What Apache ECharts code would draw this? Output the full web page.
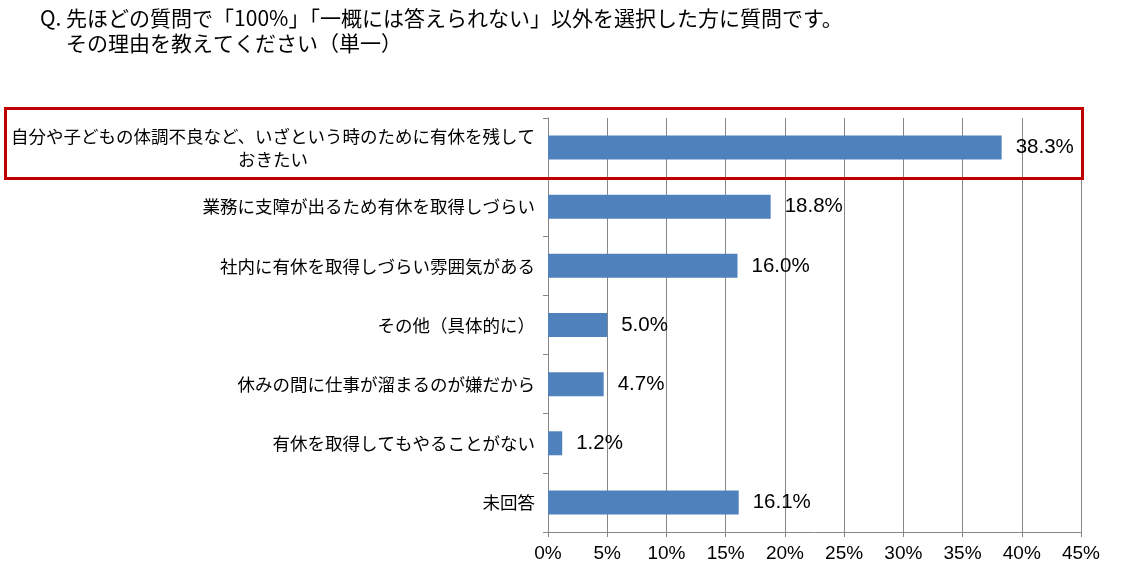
<!DOCTYPE html>
<html>
<head>
<meta charset="utf-8">
<script src="https://cdn.jsdelivr.net/npm/echarts@6/dist/echarts.min.js"></script>
<style>html,body{margin:0;padding:0;background:#fff;}#c{width:1125px;height:581px;}</style>
</head>
<body>
<div id="c"></div>
<script>
const titleLine1 = 'Q. 先ほどの質問で「100%」「一概には答えられない」以外を選択した方に質問です。';
const titleLine2 = 'その理由を教えてください（単一）';
const categories = [
  '自分や子どもの体調不良など、いざという時のために有休を残して\nおきたい',
  '業務に支障が出るため有休を取得しづらい',
  '社内に有休を取得しづらい雰囲気がある',
  'その他（具体的に）',
  '休みの間に仕事が溜まるのが嫌だから',
  '有休を取得してもやることがない',
  '未回答'
];
const values = [38.3, 18.8, 16.0, 5.0, 4.7, 1.2, 16.1];
const xTicks = [0, 5, 10, 15, 20, 25, 30, 35, 40, 45];

const jp = '"Noto Sans CJK JP", sans-serif';
const num = '"Liberation Sans", Arial, sans-serif';
const chart = echarts.init(document.getElementById('c'), null, {renderer: 'canvas'});
chart.setOption({
  backgroundColor: '#ffffff',
  animation: false,
  title: [
    {text: titleLine1, left: 35, top: 3, textStyle: {fontFamily: jp, fontSize: 21, fontWeight: 'normal', color: '#000'}},
    {text: titleLine2, left: 61, top: 28, textStyle: {fontFamily: jp, fontSize: 21, fontWeight: 'normal', color: '#000'}}
  ],
  grid: {left: 548, right: 44, top: 118, bottom: 49, containLabel: false},
  xAxis: {
    type: 'value', min: xTicks[0], max: xTicks[xTicks.length - 1], interval: 5,
    axisLine: {show: true, lineStyle: {color: '#868686', width: 1}},
    axisTick: {show: true, length: 5, lineStyle: {color: '#868686'}},
    splitLine: {show: true, lineStyle: {color: '#868686', width: 1}},
    axisLabel: {margin: 12, fontFamily: num, fontSize: 19, color: '#000', formatter: v => v + '%'}
  },
  yAxis: {
    type: 'category', inverse: true, data: categories,
    axisLine: {show: true, lineStyle: {color: '#868686', width: 1}},
    axisTick: {show: true, length: 5, lineStyle: {color: '#868686'}},
    axisLabel: {
      margin: 13, fontFamily: jp, fontSize: 17.5, color: '#000', lineHeight: 23,
      formatter: v => v.split('\n').map(s => '{c|' + s + '}').join('\n'),
      rich: {c: {align: 'center', fontFamily: jp, fontSize: 17.5, color: '#000', lineHeight: 23}}
    }
  },
  series: [{
    type: 'bar', data: values, barWidth: 24,
    itemStyle: {color: '#4F81BD'},
    label: {show: true, position: 'right', distance: 14, fontFamily: num, fontSize: 20.5, color: '#000',
      formatter: p => p.value.toFixed(1) + '%'}
  }],
  graphic: [{
    type: 'rect', left: 3, top: 106, z: 100,
    shape: {width: 1077, height: 70},
    style: {fill: 'none', stroke: '#C00000', lineWidth: 3}
  }]
});
</script>
</body>
</html>
